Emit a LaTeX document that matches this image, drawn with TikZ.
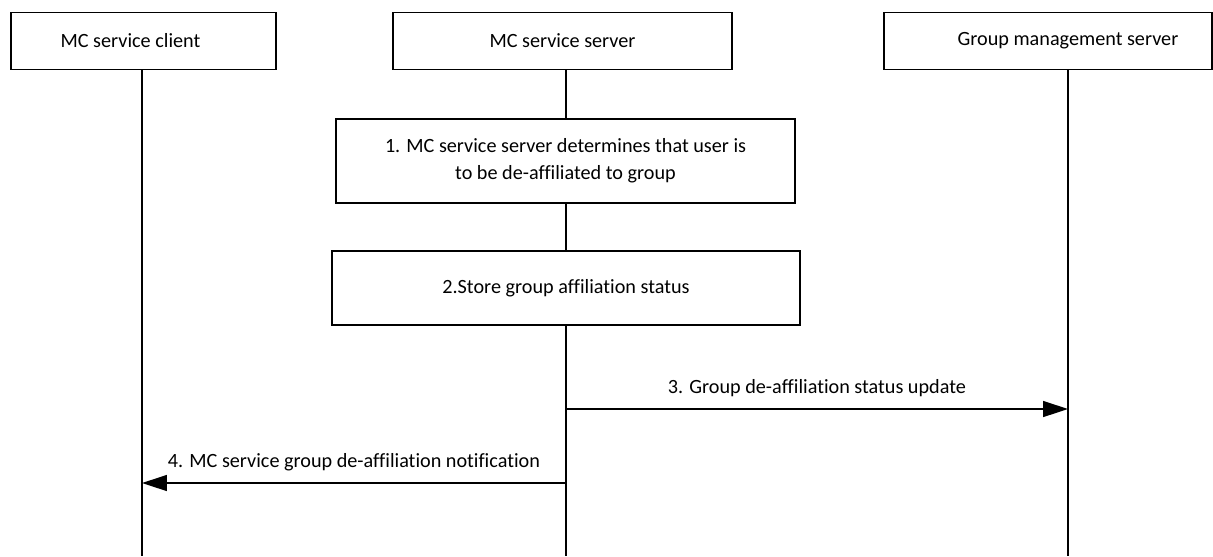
\documentclass[tikz,border=0pt]{standalone}
\usepackage{fontspec}
\setmainfont{Carlito}[Ligatures={NoCommon}]
\usetikzlibrary{arrows.meta,positioning}

\begin{document}
\begin{tikzpicture}[
  x=0.02cm, y=-0.02cm,
  every node/.style={font=\fontsize{11.5}{15.5}\selectfont},
  entity/.style={draw, line width=0.8pt, minimum height=1.14cm, inner sep=2pt},
  action/.style={draw, line width=0.8pt, align=center, inner sep=2pt},
  lifeline/.style={line width=0.8pt},
  msg/.style={line width=0.8pt, -{Triangle[length=0.5cm, width=0.32cm]}},
]
\useasboundingbox (0,0) rectangle (1213,556);

% Entities
\node[entity, minimum width=5.3cm, label={[xshift=-0.26cm]center:MC service client}] (client) at (143.5,41) {};
\node[entity, minimum width=6.78cm, label={center:MC service server}] (server) at (562.5,41) {};
\node[entity, minimum width=6.56cm, label={[xshift=0.4cm]center:Group management server}] (gms) at (1048,41) {};

% Lifeline ends
\coordinate (clientEnd) at (142,556);
\coordinate (serverEnd) at (566,556);
\coordinate (gmsEnd) at (1068,556);

% Steps at the server
\node[action, minimum width=9.18cm, minimum height=1.68cm] (step1) at (565.5,161)
  {1. MC service server determines that user is\\to be de-affiliated to group};
\node[action, minimum width=9.36cm, minimum height=1.48cm] (step2) at (566,288)
  {2.Store group affiliation status};

% Lifelines
\draw[lifeline] (client.south -| clientEnd) -- (clientEnd);
\draw[lifeline] (gms.south -| gmsEnd) -- (gmsEnd);
\draw[lifeline] (server.south -| serverEnd) -- (step1.north -| serverEnd);
\draw[lifeline] (step1.south -| serverEnd) -- (step2.north -| serverEnd);
\draw[lifeline] (step2.south -| serverEnd) -- (serverEnd);

% Messages
\coordinate (m3) at (566,409);
\coordinate (m4) at (566,483);
\draw[msg] (m3) -- (m3 -| gmsEnd) node[midway, above=3pt] {3. Group de-affiliation status update};
\draw[msg] (m4) -- (m4 -| clientEnd) node[midway, above=3pt] {4. MC service group de-affiliation notification};

\end{tikzpicture}
\end{document}
